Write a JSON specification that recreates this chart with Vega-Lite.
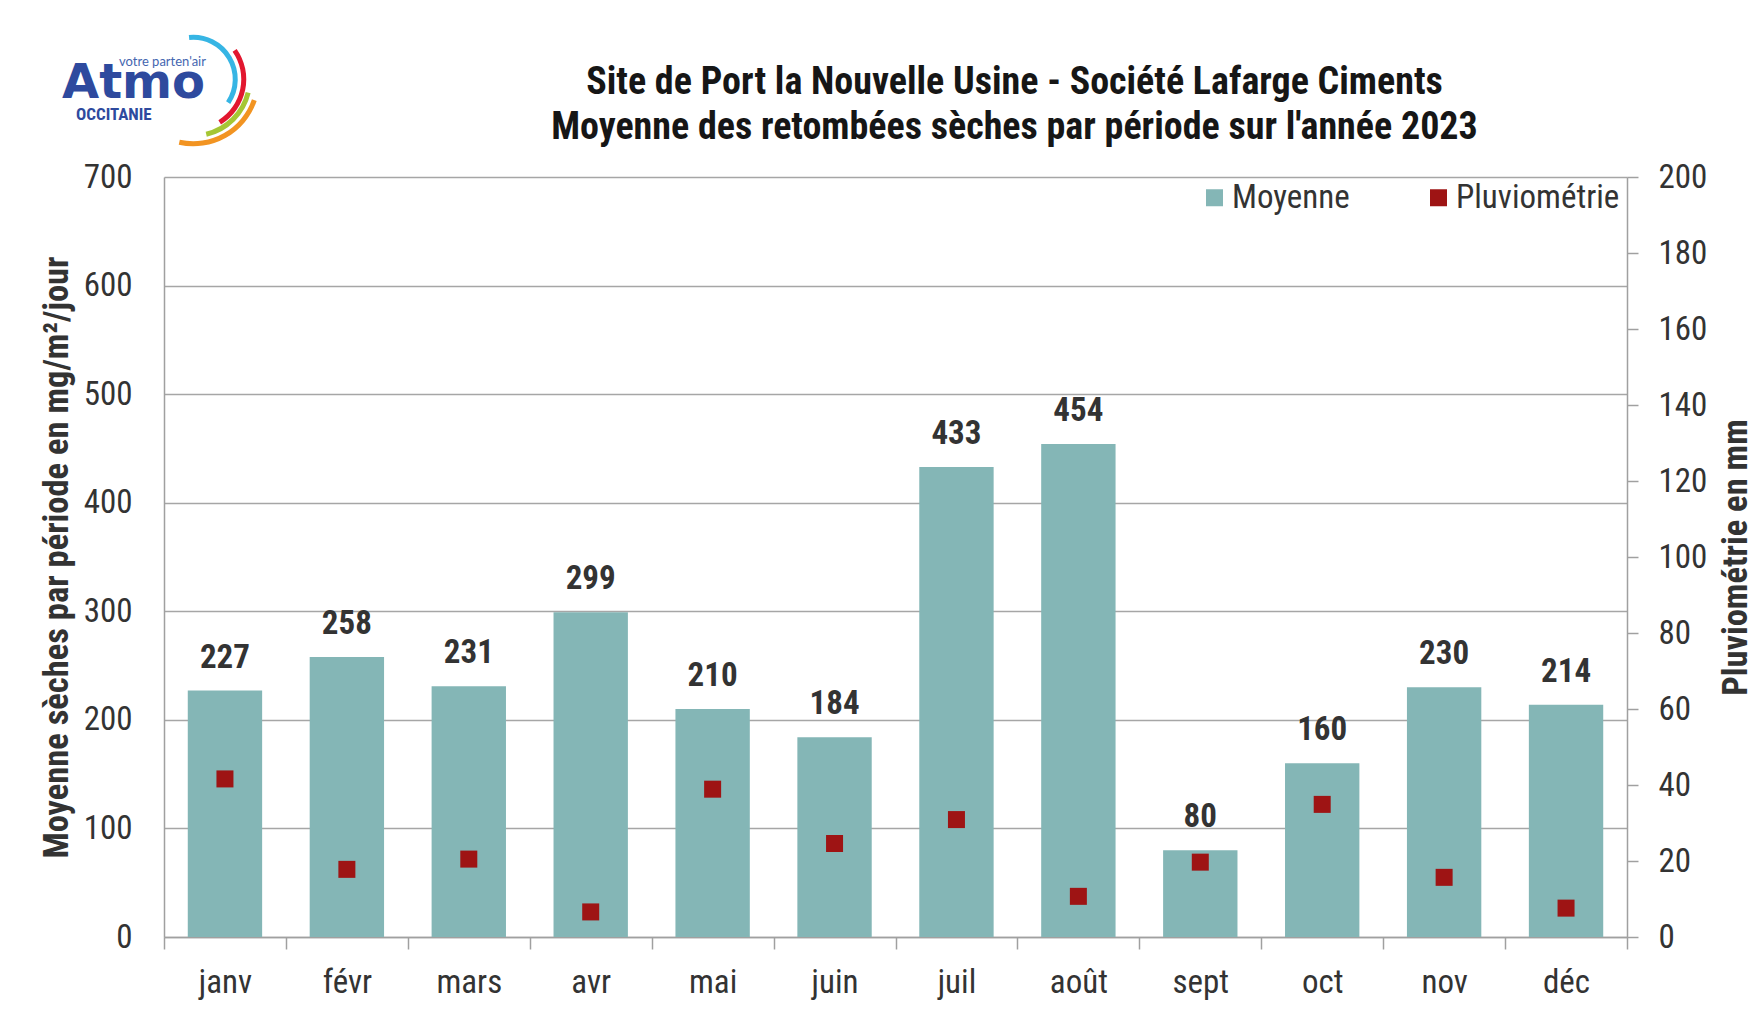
{
  "$schema": "https://vega.github.io/schema/vega-lite/v6.json",
  "width": 1463,
  "height": 760,
  "autosize": {"type": "none"},
  "padding": {"left": 164, "top": 177, "right": 121, "bottom": 89},
  "background": "white",
  "config": {
    "font": "Roboto Condensed, Liberation Sans, sans-serif",
    "view": {"stroke": null}
  },
  "title": {
    "text": ["Site de Port la Nouvelle Usine - Société Lafarge Ciments", "Moyenne des retombées sèches par période sur l'année 2023"],
    "font": "Roboto Condensed, Liberation Sans, sans-serif",
    "fontSize": 38,
    "fontWeight": "bold",
    "color": "#161616",
    "lineHeight": 45,
    "anchor": "middle",
    "frame": "group",
    "dx": 119,
    "offset": -112.5
  },
  "data": {
    "values": [
      {"mois": "janv", "moyenne": 227, "pluvio": 41.6},
      {"mois": "févr", "moyenne": 258, "pluvio": 17.8},
      {"mois": "mars", "moyenne": 231, "pluvio": 20.5},
      {"mois": "avr", "moyenne": 299, "pluvio": 6.6},
      {"mois": "mai", "moyenne": 210, "pluvio": 38.9},
      {"mois": "juin", "moyenne": 184, "pluvio": 24.6},
      {"mois": "juil", "moyenne": 433, "pluvio": 30.9},
      {"mois": "août", "moyenne": 454, "pluvio": 10.7},
      {"mois": "sept", "moyenne": 80, "pluvio": 19.7},
      {"mois": "oct", "moyenne": 160, "pluvio": 34.9},
      {"mois": "nov", "moyenne": 230, "pluvio": 15.7},
      {"mois": "déc", "moyenne": 214, "pluvio": 7.6}
    ]
  },
  "encoding": {
    "x": {
      "field": "mois",
      "type": "ordinal",
      "sort": null,
      "scale": {"paddingInner": 0, "paddingOuter": 0},
      "axis": {
        "title": null,
        "labelAngle": 0,
        "tickBand": "extent",
        "tickSize": 12,
        "tickColor": "#A0A0A0",
        "tickWidth": 1.5,
        "domainColor": "#A0A0A0",
        "domainWidth": 1.5,
        "labelFont": "Roboto Condensed, Liberation Sans, sans-serif",
        "labelFontSize": 33,
        "labelColor": "#333333",
        "labelPadding": 17,
        "grid": false
      }
    }
  },
  "layer": [
    {
      "layer": [
        {
          "mark": {"type": "bar", "width": {"band": 0.61}},
          "encoding": {
            "y": {
              "field": "moyenne",
              "type": "quantitative",
              "scale": {"domain": [0, 700], "nice": false},
              "axis": {
                "values": [0, 100, 200, 300, 400, 500, 600, 700],
                "grid": true,
                "gridColor": "#A6A6A6",
                "gridWidth": 1.5,
                "ticks": false,
                "domainColor": "#A0A0A0",
                "domainWidth": 1.5,
                "labelFont": "Roboto Condensed, Liberation Sans, sans-serif",
                "labelFontSize": 33,
                "labelColor": "#333333",
                "labelPadding": 32,
                "title": "Moyenne sèches par période en mg/m²/jour",
                "titleFont": "Roboto Condensed, Liberation Sans, sans-serif",
                "titleFontSize": 34.5,
                "titleFontWeight": "bold",
                "titleColor": "#333333",
                "titlePadding": 8.5
              }
            },
            "color": {
              "datum": "Moyenne",
              "scale": {"domain": ["Moyenne", "Pluviométrie"], "range": ["#84B6B6", "#9E1414"]},
              "legend": {
                "title": null,
                "orient": "none",
                "legendX": 1034,
                "legendY": 4,
                "direction": "horizontal",
                "symbolType": "square",
                "symbolSize": 289,
                "symbolStrokeWidth": 0,
                "labelFont": "Roboto Condensed, Liberation Sans, sans-serif",
                "labelFontSize": 33,
                "labelLimit": 400,
                "labelColor": "#333333",
                "labelOffset": 1,
                "columnPadding": 72
              }
            }
          }
        },
        {
          "mark": {"type": "text", "baseline": "alphabetic", "dy": -23, "fontSize": 33, "fontWeight": "bold", "color": "#333333", "font": "Roboto Condensed, Liberation Sans, sans-serif"},
          "encoding": {
            "y": {"field": "moyenne", "type": "quantitative"},
            "text": {"field": "moyenne", "type": "quantitative"}
          }
        },
        {
          "data": {"values": [{"t": "Atmo"}]},
          "mark": {"type": "text", "align": "left", "baseline": "alphabetic", "dx": -102, "dy": -79, "fontSize": 48, "fontWeight": "bold", "font": "DejaVu Sans", "color": "#2E4A9E"},
          "encoding": {"x": {"datum": "janv", "bandPosition": 0}, "y": {"datum": 700}, "text": {"field": "t"}}
        },
        {
          "data": {"values": [{"t": "OCCITANIE"}]},
          "mark": {"type": "text", "align": "left", "baseline": "alphabetic", "dx": -88, "dy": -57, "fontSize": 17, "fontWeight": "bold", "font": "Roboto Condensed", "color": "#2E4A9E"},
          "encoding": {"x": {"datum": "janv", "bandPosition": 0}, "y": {"datum": 700}, "text": {"field": "t"}}
        },
        {
          "data": {"values": [{"t": "votre parten'air"}]},
          "mark": {"type": "text", "align": "left", "baseline": "alphabetic", "dx": -45, "dy": -111, "fontSize": 13, "font": "Lato", "color": "#4466B0"},
          "encoding": {"x": {"datum": "janv", "bandPosition": 0}, "y": {"datum": 700}, "text": {"field": "t"}}
        },
        {
          "data": {"values": [{"t": "cyan"}]},
          "mark": {"type": "arc", "radius": 44.5, "radius2": 39.5, "theta": -0.1, "theta2": 2.16, "color": "#36B5E4"},
          "encoding": {"x": {"datum": "janv", "bandPosition": 0.24}, "y": {"datum": 790}}
        },
        {
          "data": {"values": [{"t": "rouge"}]},
          "mark": {"type": "arc", "radius": 53, "radius2": 48, "theta": 0.96, "theta2": 2.59, "color": "#E2172F"},
          "encoding": {"x": {"datum": "janv", "bandPosition": 0.24}, "y": {"datum": 790}}
        },
        {
          "data": {"values": [{"t": "vert"}]},
          "mark": {"type": "arc", "radius": 59, "radius2": 54, "theta": 1.81, "theta2": 2.91, "color": "#A5C634"},
          "encoding": {"x": {"datum": "janv", "bandPosition": 0.24}, "y": {"datum": 790}}
        },
        {
          "data": {"values": [{"t": "orange"}]},
          "mark": {"type": "arc", "radius": 67, "radius2": 62, "theta": 1.9, "theta2": 3.36, "color": "#F29422"},
          "encoding": {"x": {"datum": "janv", "bandPosition": 0.24}, "y": {"datum": 790}}
        }
      ]
    },
    {
      "mark": {"type": "square", "size": 289, "opacity": 1, "strokeWidth": 0},
      "encoding": {
        "y": {
          "field": "pluvio",
          "type": "quantitative",
          "scale": {"domain": [0, 200], "nice": false},
          "axis": {
            "orient": "right",
            "values": [0, 20, 40, 60, 80, 100, 120, 140, 160, 180, 200],
            "grid": false,
            "tickSize": 11,
            "tickColor": "#A0A0A0",
            "tickWidth": 1.5,
            "domainColor": "#A0A0A0",
            "domainWidth": 1.5,
            "labelFont": "Roboto Condensed, Liberation Sans, sans-serif",
            "labelFontSize": 33,
            "labelColor": "#333333",
            "labelPadding": 20,
            "title": "Pluviométrie en mm",
            "titleFont": "Roboto Condensed, Liberation Sans, sans-serif",
            "titleAngle": 270,
            "titleFontSize": 34.5,
            "titleFontWeight": "bold",
            "titleColor": "#333333",
            "titlePadding": 47
          }
        },
        "color": {"datum": "Pluviométrie"}
      }
    }
  ],
  "resolve": {"scale": {"y": "independent"}}
}
